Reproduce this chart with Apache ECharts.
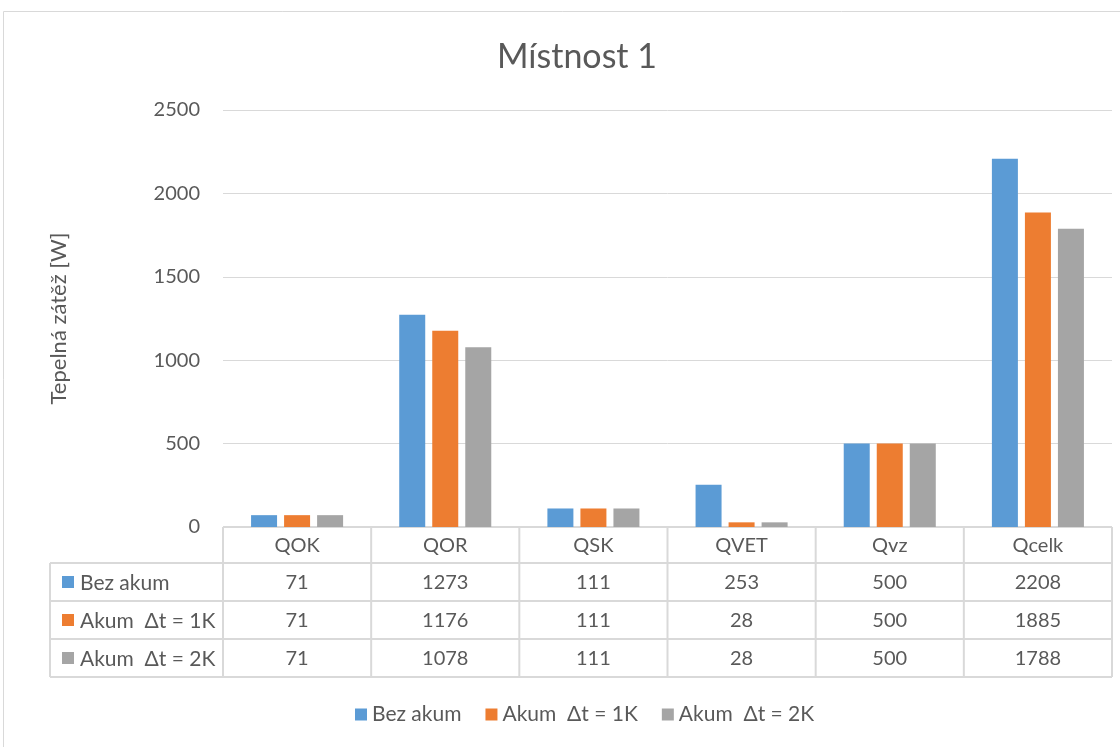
<!DOCTYPE html>
<html>
<head>
<meta charset="utf-8">
<script src="https://cdn.jsdelivr.net/npm/echarts@6/dist/echarts.min.js"></script>
<style>
  html, body { margin: 0; padding: 0; background: #fff; }
  #main { width: 1120px; height: 747px; }
</style>
</head>
<body>
<div id="main"></div>
<script>
var categories = ['QOK', 'QOR', 'QSK', 'QVET', 'Qvz', 'Qcelk'];
var seriesNames = ['Bez akum', 'Akum  \u0394t = 1K', 'Akum  \u0394t = 2K'];
var bezAkum = [71, 1273, 111, 253, 500, 2208];
var akum1K = [71, 1176, 111, 28, 500, 1885];
var akum2K = [71, 1078, 111, 28, 500, 1788];
var colors = ['#5B9BD5', '#ED7D31', '#A5A5A5'];
var yTicks = [0, 500, 1000, 1500, 2000, 2500];

var fontFam = 'Lato, "Open Sans", sans-serif';
var textColor = '#595959';
var lineColor = '#d9d9d9';

var myChart = echarts.init(document.getElementById('main'));

var allData = [bezAkum, akum1K, akum2K];
var series = seriesNames.map(function (n, i) {
    return {
        name: n,
        type: 'bar',
        data: allData[i],
        barWidth: 26,
        barGap: '27%',
        itemStyle: { color: colors[i] }
    };
});

option = {
    animation: false,
    title: {
        text: 'Místnost 1',
        left: 492,
        top: 35,
        textStyle: { fontFamily: fontFam, fontSize: 34, fontWeight: 'normal', color: textColor }
    },
    legend: {
        data: seriesNames,
        bottom: 17,
        left: 350,
        icon: 'rect',
        itemWidth: 12,
        itemHeight: 12,
        itemGap: 24,
        textStyle: { fontFamily: fontFam, fontSize: 21, color: textColor }
    },
    grid: {
        left: 223,
        right: 8,
        top: 110,
        bottom: 220,
        containLabel: false
    },
    xAxis: {
        type: 'category',
        data: categories,
        axisLine: { show: false },
        axisTick: { show: false },
        axisLabel: { show: false }
    },
    yAxis: {
        type: 'value',
        min: yTicks[0],
        max: yTicks[yTicks.length - 1],
        interval: 500,
        name: 'Tepelná zátěž [W]',
        nameLocation: 'middle',
        nameGap: 153,
        nameRotate: 90,
        nameTextStyle: { fontFamily: fontFam, fontSize: 22, color: textColor },
        axisLine: { show: false },
        axisTick: { show: false },
        axisLabel: {
            fontFamily: fontFam, fontSize: 20, color: textColor, margin: 23,
            formatter: function (v) { return String(v); }
        },
        splitLine: { lineStyle: { color: lineColor, width: 1 } }
    },
    series: series
};

myChart.setOption(option);

// data table below the plot, built from the axis positions
function buildTable() {
    var g = [];
    var x0 = myChart.convertToPixel({ xAxisIndex: 0 }, 0);
    var x1 = myChart.convertToPixel({ xAxisIndex: 0 }, 1);
    var band = x1 - x0;
    var left = x0 - band / 2;
    var right = left + band * categories.length;
    var top = myChart.convertToPixel({ yAxisIndex: 0 }, 0);
    var headH = 36;
    var rowH = 38;
    var labelLeft = 50;
    var stroke = { stroke: lineColor, lineWidth: 2 };
    var font = '20px ' + fontFam;
    var labelFont = '21px ' + fontFam;

    // horizontal lines
    g.push({ type: 'line', shape: { x1: left, y1: top, x2: right, y2: top }, style: stroke });
    for (var r = 0; r <= seriesNames.length; r++) {
        var y = top + headH + r * rowH;
        g.push({ type: 'line', shape: { x1: labelLeft, y1: y, x2: right, y2: y }, style: stroke });
    }
    var bottomY = top + headH + seriesNames.length * rowH;
    // vertical lines
    g.push({ type: 'line', shape: { x1: labelLeft, y1: top + headH, x2: labelLeft, y2: bottomY }, style: stroke });
    for (var c = 0; c <= categories.length; c++) {
        var x = left + c * band;
        g.push({ type: 'line', shape: { x1: x, y1: top, x2: x, y2: bottomY }, style: stroke });
    }
    // header
    categories.forEach(function (cat, i) {
        g.push({
            type: 'text', x: left + (i + 0.5) * band, y: top + headH / 2 + 1,
            style: { text: cat, fill: textColor, font: font, align: 'center', verticalAlign: 'middle' }
        });
    });
    // rows
    seriesNames.forEach(function (n, r) {
        var cy = top + headH + (r + 0.5) * rowH;
        g.push({ type: 'rect', shape: { x: labelLeft + 12, y: cy - 6, width: 12, height: 12 }, style: { fill: colors[r] } });
        g.push({
            type: 'text', x: labelLeft + 30, y: cy + 1,
            style: { text: n, fill: textColor, font: labelFont, align: 'left', verticalAlign: 'middle' }
        });
        allData[r].forEach(function (v, i) {
            g.push({
                type: 'text', x: left + (i + 0.5) * band, y: cy + 1,
                style: { text: String(v), fill: textColor, font: font, align: 'center', verticalAlign: 'middle' }
            });
        });
    });
    // outer chart border
    g.push({ type: 'rect', shape: { x: 3.5, y: 11.5, width: 1130, height: 760 }, style: { fill: 'none', stroke: lineColor, lineWidth: 1 }, silent: true });
    myChart.setOption({ graphic: { elements: g } });
}
buildTable();
</script>
</body>
</html>
